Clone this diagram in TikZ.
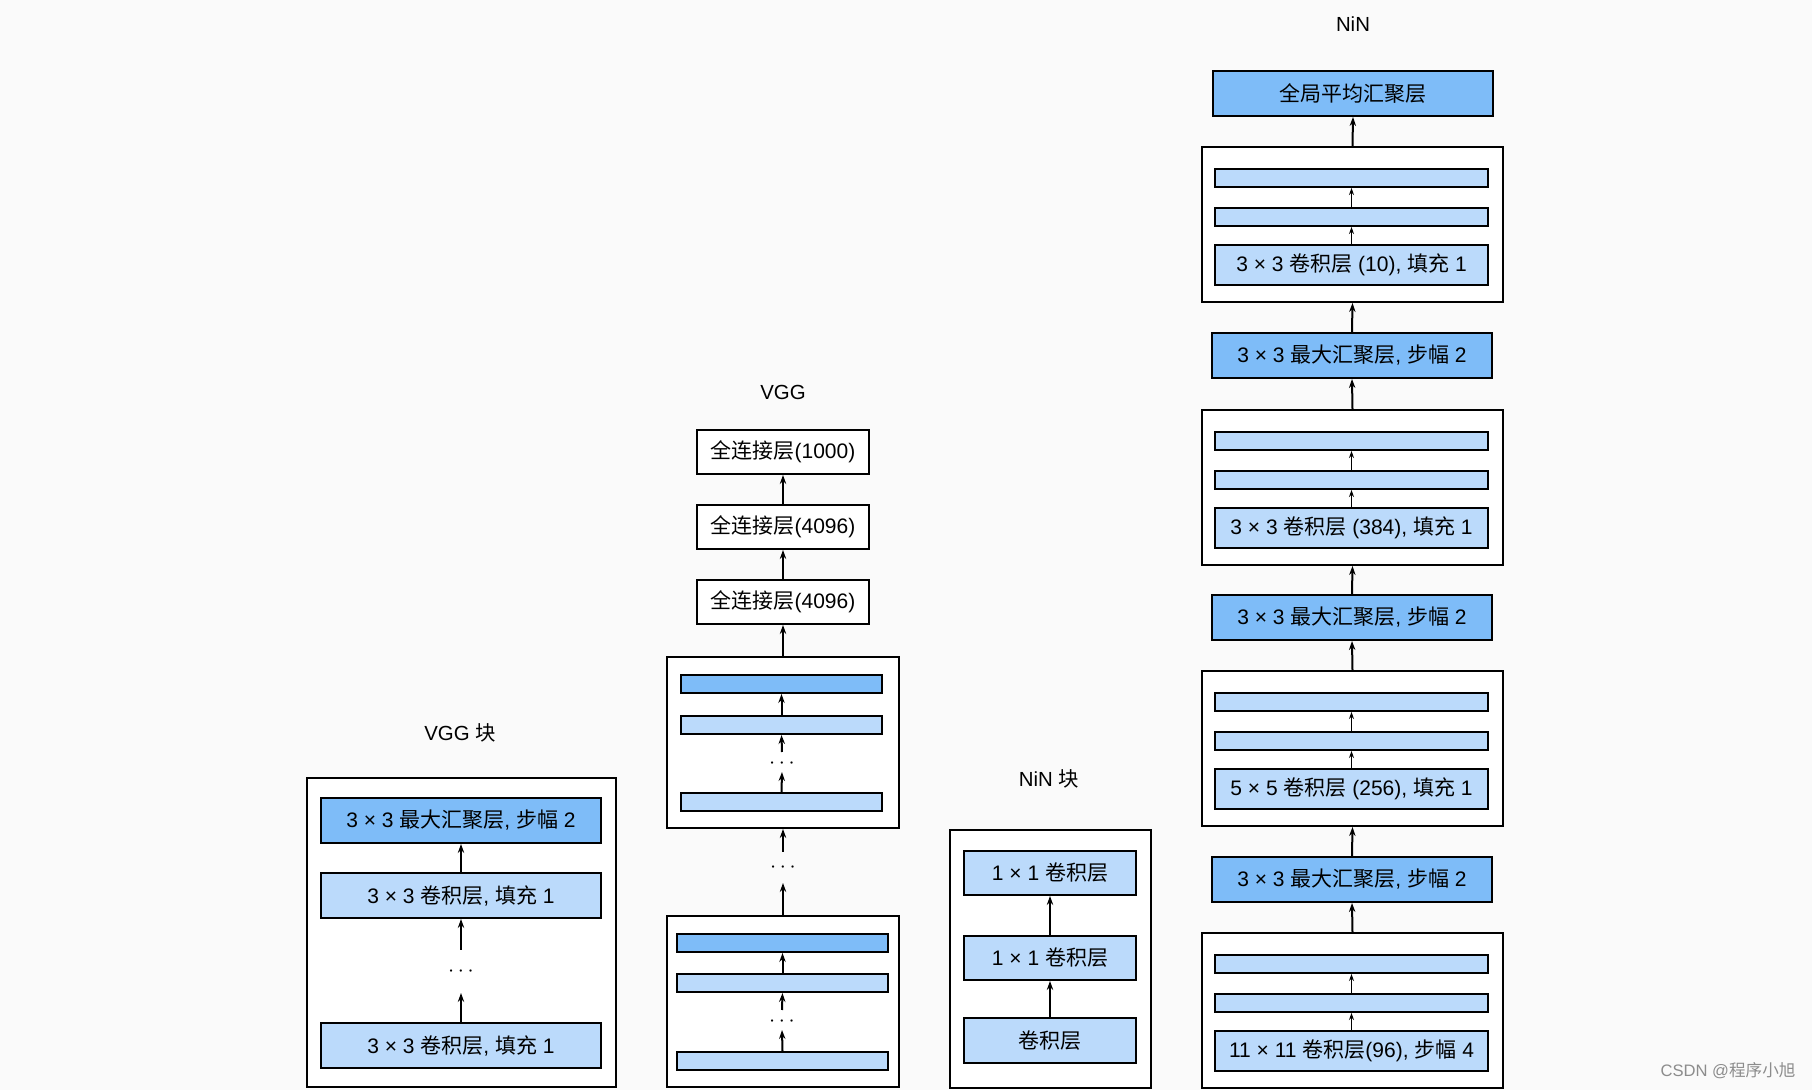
\documentclass[tikz,border=0pt]{standalone}
\usepackage{fontspec}
\setmainfont{Liberation Sans}
\newfontfamily\cjk{Noto Sans CJK SC}
\usetikzlibrary{arrows.meta}
\definecolor{bg}{HTML}{FAFAFA}
\definecolor{dkblue}{HTML}{7EBCF8}
\definecolor{ltblue}{HTML}{BBDAFB}
\begin{document}
\begin{tikzpicture}[x=0.5pt,y=-0.5pt,
  every node/.style={font=\fontsize{10.5pt}{12pt}\selectfont, inner sep=0pt},
  layer/.style={draw=black, line width=1pt, anchor=center},
  dk/.style={layer, fill=dkblue},
  lt/.style={layer, fill=ltblue},
  wh/.style={layer, fill=white},
  outer/.style={draw=black, line width=1pt, fill=white},
  arr/.style={draw=black, line width=1pt, -{Stealth[length=4.5pt,width=3.2pt]}},
  sarr/.style={draw=black, line width=0.75pt, -{Stealth[length=3.5pt,width=2.5pt]}},
  title/.style={font=\fontsize{10.2pt}{12pt}\selectfont}]
\fill[bg] (0,0) rectangle (1812,1090);
\useasboundingbox (0,0) rectangle (1812,1090);

% ---------------- VGG block ----------------
\node[title] (vbt) at (460,733) {VGG {\cjk 块}};
\node[outer, minimum width=154.5pt, minimum height=154.5pt] (vbo) at (461.5,932.5) {};
\node[dk, minimum width=140pt, minimum height=22.5pt] (vbmp) at (461,820.5) {3 × 3 {\cjk 最大汇聚层}, {\cjk 步幅} 2};
\node[lt, minimum width=140pt, minimum height=22.5pt] (vbc2) at (461,895.5) {3 × 3 {\cjk 卷积层}, {\cjk 填充} 1};
\node[lt, minimum width=140pt, minimum height=22.5pt] (vbc1) at (461,1045.5) {3 × 3 {\cjk 卷积层}, {\cjk 填充} 1};
\node (vbd) at (461,972) {$\cdots$};
\coordinate (vba) at (461,993);
\coordinate (vbb) at (461,950);
\draw[arr] (vbc2.north) -- (vbmp.south);
\draw[arr] (vbb) -- (vbc2.south);
\draw[arr] (vbc1.north) -- (vba);

% ---------------- VGG ----------------
\node[title] (vt) at (783,392) {VGG};
\node[wh, minimum width=86pt, minimum height=22pt] (fc1) at (783,452) {{\cjk 全连接层}(1000)};
\node[wh, minimum width=86pt, minimum height=22pt] (fc2) at (783,527) {{\cjk 全连接层}(4096)};
\node[wh, minimum width=86pt, minimum height=22pt] (fc3) at (783,602) {{\cjk 全连接层}(4096)};
% top block
\node[outer, minimum width=116pt, minimum height=85.5pt] (vo2) at (783,742.5) {};
\node[dk, minimum width=100.5pt, minimum height=9pt] (v2a) at (781.5,684) {};
\node[lt, minimum width=100.5pt, minimum height=9pt] (v2b) at (781.5,725) {};
\node[lt, minimum width=100.5pt, minimum height=9pt] (v2c) at (781.5,802.5) {};
\node (v2d) at (782,764) {$\cdots$};
\coordinate (v2e) at (782,752);
\coordinate (v2f) at (782,772);
\draw[arr] (v2b.north) -- (v2a.south);
\draw[arr] (v2e) -- (v2b.south);
\draw[arr] (v2c.north) -- (v2f);
% bottom block
\node[outer, minimum width=116pt, minimum height=85.5pt] (vo1) at (783,1001.5) {};
\node[dk, minimum width=105.5pt, minimum height=9pt] (v1a) at (782.5,943) {};
\node[lt, minimum width=105.5pt, minimum height=9pt] (v1b) at (782.5,983) {};
\node[lt, minimum width=105.5pt, minimum height=9pt] (v1c) at (782.5,1061) {};
\node (v1d) at (782,1022) {$\cdots$};
\coordinate (v1e) at (782,1010);
\coordinate (v1f) at (782,1030);
\draw[arr] (v1b.north) -- (v1a.south);
\draw[arr] (v1e) -- (v1b.south);
\draw[arr] (v1c.north) -- (v1f);
% between
\node (vmd) at (783,868) {$\cdots$};
\coordinate (vma) at (783,883);
\coordinate (vmb) at (783,852);
\draw[arr] (vo1.north) -- (vma);
\draw[arr] (vmb) -- (vo2.south);
\draw[arr] (vo2.north) -- (fc3.south);
\draw[arr] (fc3.north) -- (fc2.south);
\draw[arr] (fc2.north) -- (fc1.south);

% ---------------- NiN block ----------------
\node[title] (nbt) at (1049,779) {NiN {\cjk 块}};
\node[outer, minimum width=100.5pt, minimum height=129pt] (nbo) at (1050.5,959) {};
\node[lt, minimum width=86pt, minimum height=22pt] (nb1) at (1050,873) {1 × 1 {\cjk 卷积层}};
\node[lt, minimum width=86pt, minimum height=22pt] (nb2) at (1050,958) {1 × 1 {\cjk 卷积层}};
\node[lt, minimum width=86pt, minimum height=22pt] (nb3) at (1050,1040.5) {{\cjk 卷积层}};
\draw[arr] (nb3.north) -- (nb2.south);
\draw[arr] (nb2.north) -- (nb1.south);

% ---------------- NiN ----------------
\node[title] (nt) at (1353,24) {NiN};
\node[dk, minimum width=140pt, minimum height=22.5pt] (gap) at (1353,93.5) {{\cjk 全局平均汇聚层}};
% block 4 (top)
\node[outer, minimum width=150.5pt, minimum height=77.5pt] (n4) at (1352.5,224.5) {};
\node[lt, minimum width=136.5pt, minimum height=9pt] (n4a) at (1351.5,178) {};
\node[lt, minimum width=136.5pt, minimum height=9pt] (n4b) at (1351.5,217) {};
\node[lt, minimum width=136.5pt, minimum height=20pt] (n4c) at (1351.5,265) {3 × 3 {\cjk 卷积层} (10), {\cjk 填充} 1};
\draw[sarr] (n4c.north) -- (n4b.south);
\draw[sarr] (n4b.north) -- (n4a.south);
\node[dk, minimum width=140pt, minimum height=22.5pt] (mp3) at (1352,355.5) {3 × 3 {\cjk 最大汇聚层}, {\cjk 步幅} 2};
% block 3
\node[outer, minimum width=150.5pt, minimum height=77.5pt] (n3) at (1352.5,487.5) {};
\node[lt, minimum width=136.5pt, minimum height=9pt] (n3a) at (1351.5,441) {};
\node[lt, minimum width=136.5pt, minimum height=9pt] (n3b) at (1351.5,480) {};
\node[lt, minimum width=136.5pt, minimum height=20pt] (n3c) at (1351.5,528) {3 × 3 {\cjk 卷积层} (384), {\cjk 填充} 1};
\draw[sarr] (n3c.north) -- (n3b.south);
\draw[sarr] (n3b.north) -- (n3a.south);
\node[dk, minimum width=140pt, minimum height=22.5pt] (mp2) at (1352,617.5) {3 × 3 {\cjk 最大汇聚层}, {\cjk 步幅} 2};
% block 2
\node[outer, minimum width=150.5pt, minimum height=77.5pt] (n2) at (1352.5,748.5) {};
\node[lt, minimum width=136.5pt, minimum height=9pt] (n2a) at (1351.5,702) {};
\node[lt, minimum width=136.5pt, minimum height=9pt] (n2b) at (1351.5,741) {};
\node[lt, minimum width=136.5pt, minimum height=20pt] (n2c) at (1351.5,789) {5 × 5 {\cjk 卷积层} (256), {\cjk 填充} 1};
\draw[sarr] (n2c.north) -- (n2b.south);
\draw[sarr] (n2b.north) -- (n2a.south);
\node[dk, minimum width=140pt, minimum height=22.5pt] (mp1) at (1352,879.5) {3 × 3 {\cjk 最大汇聚层}, {\cjk 步幅} 2};
% block 1
\node[outer, minimum width=150.5pt, minimum height=77.5pt] (n1) at (1352.5,1010.5) {};
\node[lt, minimum width=136.5pt, minimum height=9pt] (n1a) at (1351.5,964) {};
\node[lt, minimum width=136.5pt, minimum height=9pt] (n1b) at (1351.5,1003) {};
\node[lt, minimum width=136.5pt, minimum height=20pt] (n1c) at (1351.5,1051) {11 × 11 {\cjk 卷积层}(96), {\cjk 步幅} 4};
\draw[sarr] (n1c.north) -- (n1b.south);
\draw[sarr] (n1b.north) -- (n1a.south);
% main arrows
\draw[arr] (n1.north) -- (mp1.south);
\draw[arr] (mp1.north) -- (n2.south);
\draw[arr] (n2.north) -- (mp2.south);
\draw[arr] (mp2.north) -- (n3.south);
\draw[arr] (n3.north) -- (mp3.south);
\draw[arr] (mp3.north) -- (n4.south);
\draw[arr] (n4.north) -- (gap.south);

% watermark
\node[text=black!45, font=\fontsize{8.3pt}{10pt}\selectfont] (wm) at (1728,1071) {CSDN @{\cjk 程序小旭}};
\end{tikzpicture}
\end{document}
